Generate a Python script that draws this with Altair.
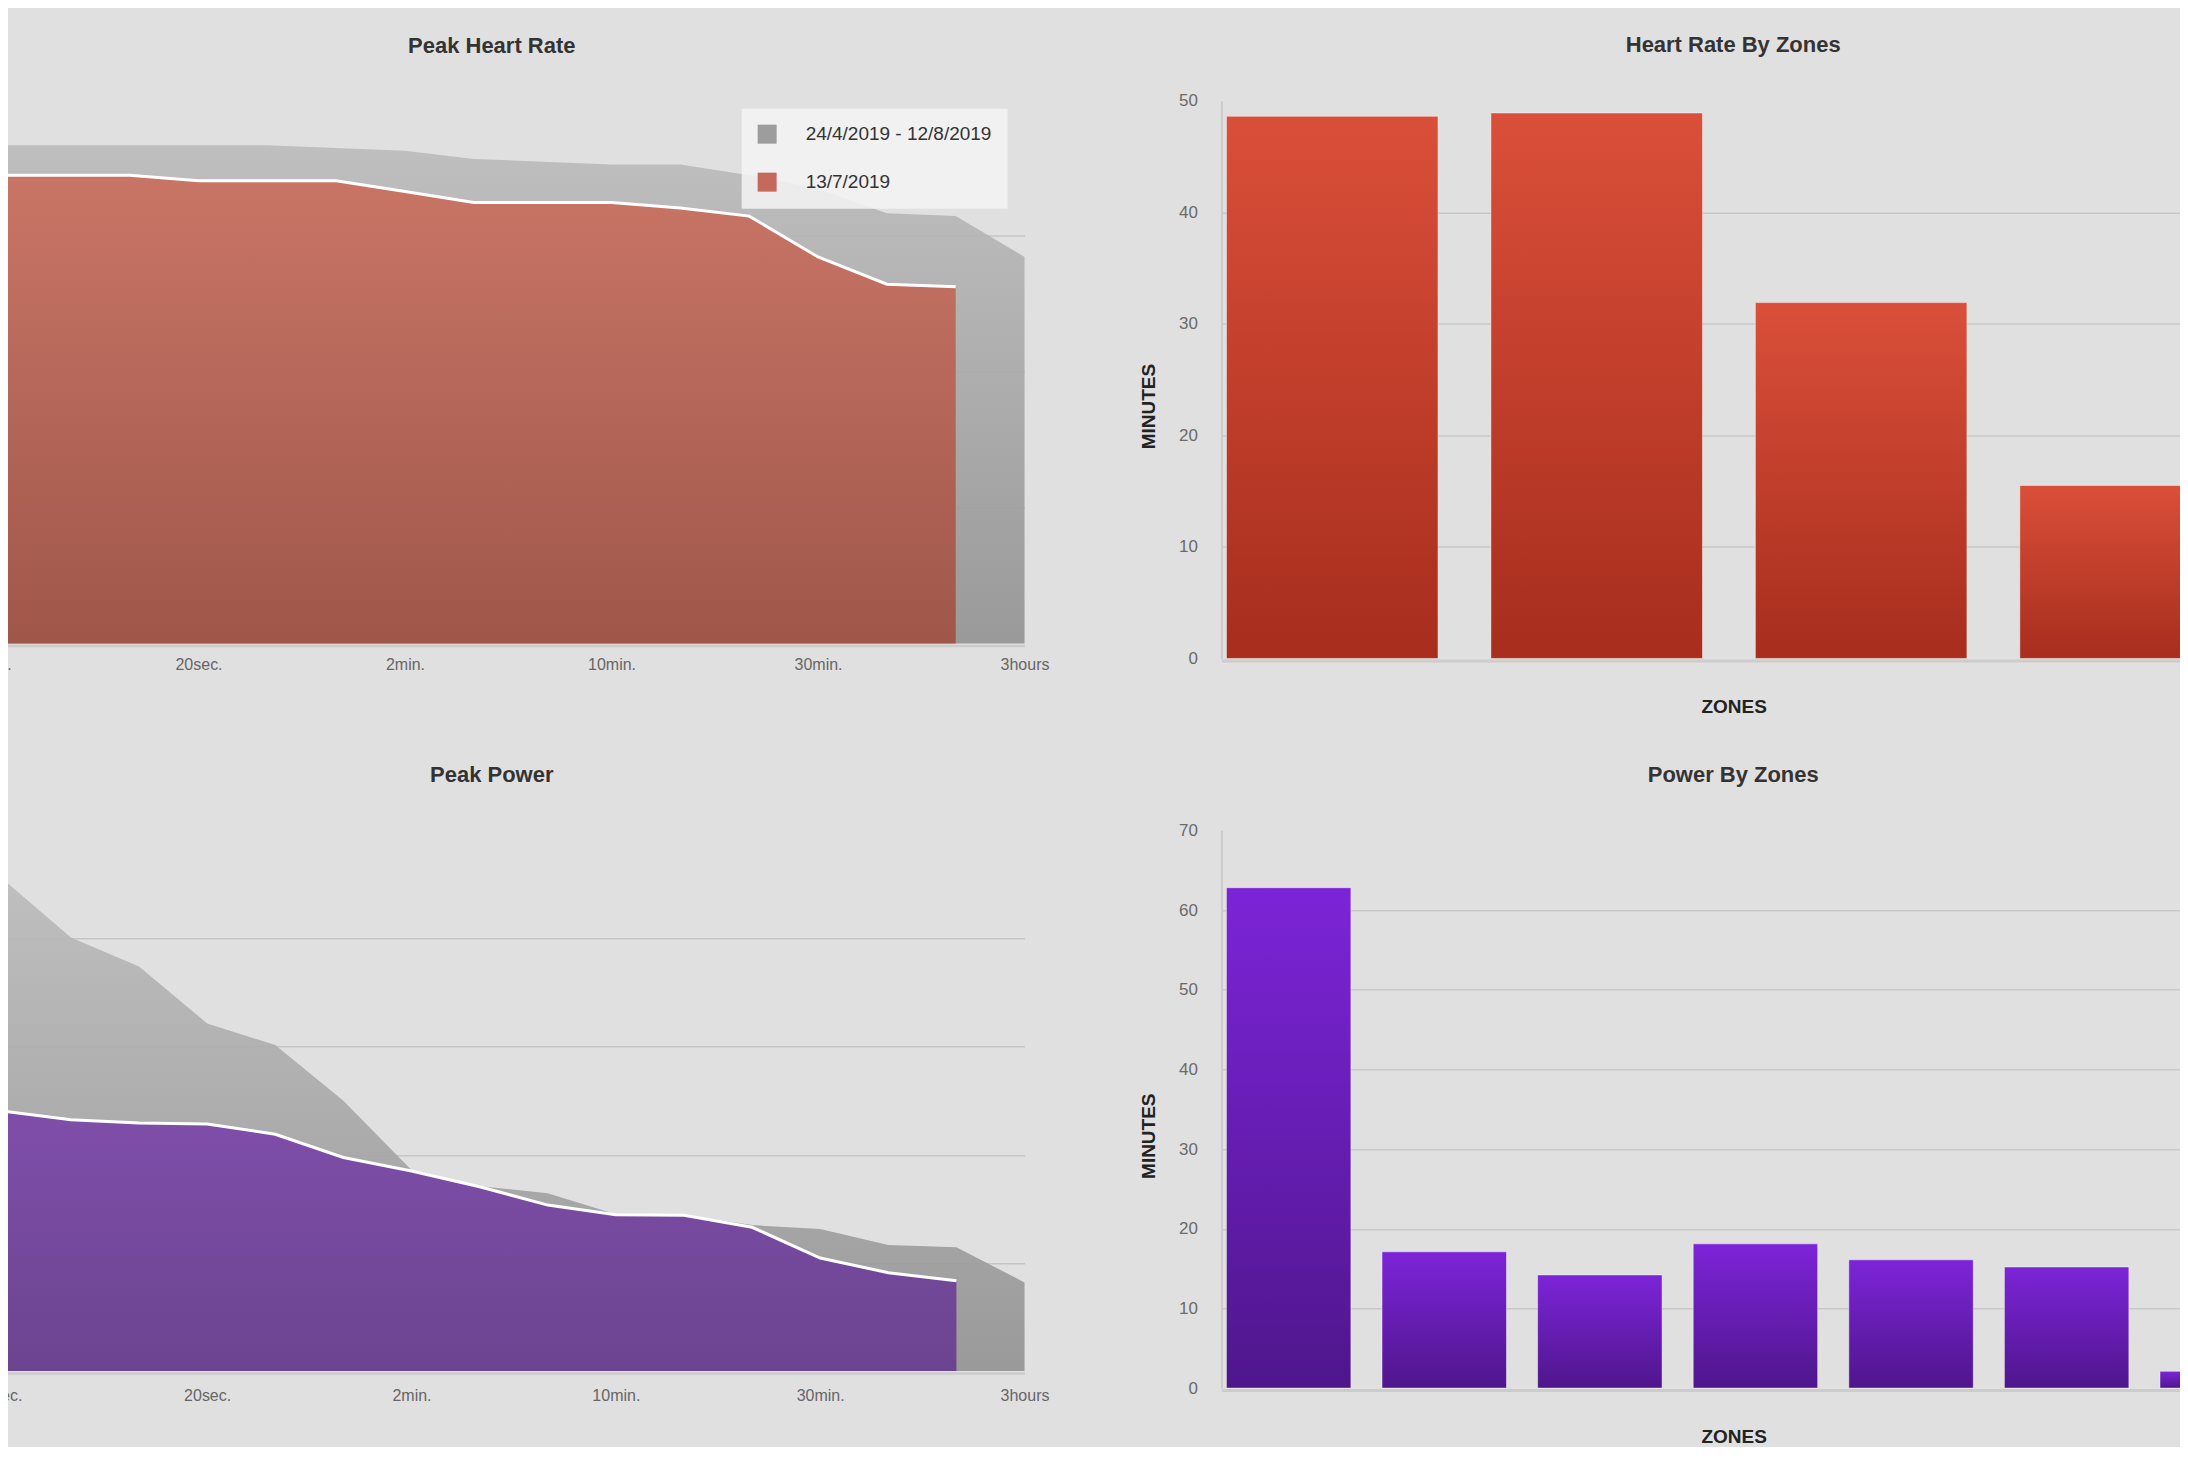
import altair as alt
import pandas as pd

# ---------------- data ----------------
durations = ["5sec.", "10sec.", "15sec.", "20sec.", "30sec.", "1min.", "2min.",
             "5min.", "8min.", "10min.", "15min.", "20min.", "30min.",
             "1hour", "2hours", "3hours"]
tick_labels = ["5sec.", "20sec.", "2min.", "10min.", "30min.", "3hours"]

range_label = "24/4/2019 - 12/8/2019"
ride_label = "13/7/2019"

hr_range_bpm = [183, 183, 183, 183, 183, 182, 181, 178, 177, 176, 176, 172, 167, 158, 157, 142]
hr_ride_bpm = [172, 172, 172, 170, 170, 170, 166, 162, 162, 162, 160, 157, 142, 132, 131]

pw_range_w = [910, 802, 748, 643, 603, 500, 372, 342, 329, 290, 289, 270, 263, 233, 229, 164]
pw_ride_w = [481, 465, 459, 457, 438, 395, 370, 341, 307, 289, 288, 266, 209, 182, 167]

hr_zones = ["Zone 1", "Zone 2", "Zone 3", "Zone 4", "Zone 5"]
hr_zone_minutes = [48.6, 48.9, 31.9, 15.5]          # zone 5 lies outside the frame

pw_zones = ["Zone 1", "Zone 2", "Zone 3", "Zone 4", "Zone 5", "Zone 6", "Zone 7"]
pw_zone_minutes = [62.8, 17.1, 14.2, 18.1, 16.1, 15.2, 2.1]

# ---------------- style ----------------
FONT = "Liberation Sans"
BG = "#e1e0e0"


def vgrad(top, bottom):
    return alt.Gradient(
        gradient="linear",
        stops=[alt.GradientStop(color=top, offset=0), alt.GradientStop(color=bottom, offset=1)],
        x1=1, x2=1, y1=0, y2=1,
    )


def title_params(text, dx, offset):
    return alt.TitleParams(
        text, font=FONT, fontSize=22, fontWeight="bold", color="#333333",
        anchor="middle", frame="group", dx=dx, offset=offset, baseline="alphabetic",
    )


def peak_chart(title, range_vals, ride_vals, ride_top, ride_bottom, ride_legend,
               y_max, height, grid_vals, label_pad, x_range=None):
    range_df = pd.DataFrame({"dur": durations, "value": range_vals})
    ride_df = pd.DataFrame({"dur": durations[:len(ride_vals)], "value": ride_vals})
    legend_df = pd.DataFrame({"series": [range_label, ride_label],
                              "dur": [durations[8], durations[8]],
                              "value": [y_max * 0.2, y_max * 0.2]})
    scale_kw = dict(type="point", domain=durations, padding=0)
    if x_range is not None:
        scale_kw["range"] = x_range
    x = alt.X("dur:O", sort=durations, scale=alt.Scale(**scale_kw),
              axis=alt.Axis(values=tick_labels, labelAngle=0, labelFont=FONT, labelFontSize=16,
                            labelColor="#666666", labelPadding=label_pad, ticks=False, tickSize=0,
                            domain=True, domainColor="#cccccc", domainWidth=2.5, offset=2,
                            grid=False, title=None))
    y = alt.Y("value:Q", scale=alt.Scale(domain=[0, y_max], nice=False, zero=True),
              axis=alt.Axis(values=grid_vals, labels=False, ticks=False, tickSize=0, domain=False,
                            grid=True, gridColor="#c6c6c6", gridWidth=1.5, title=None))
    legend_layer = alt.Chart(legend_df).mark_square(size=16, opacity=1).encode(
        x=x, y=y,
        color=alt.Color("series:N",
                        scale=alt.Scale(domain=[range_label, ride_label], range=["#9d9d9d", ride_legend]),
                        legend=alt.Legend(orient="none", legendX=750, legendY=8, direction="vertical",
                                          title=None, symbolType="square", symbolSize=361,
                                          symbolStrokeWidth=0, symbolOpacity=1, labelLimit=500,
                                          labelFont=FONT, labelFontSize=19, labelColor="#333333",
                                          labelOffset=29, rowPadding=28, padding=16,
                                          fillColor="rgba(243,243,243,0.88)", cornerRadius=0)),
    )
    gray = alt.Chart(range_df).mark_area(color=vgrad("#bbbbbb", "#929292"), opacity=0.9).encode(x=x, y=y)
    ride = alt.Chart(ride_df).mark_area(color=vgrad(ride_top, ride_bottom)).encode(x=x, y=y)
    line = alt.Chart(ride_df).mark_line(color="white", strokeWidth=3).encode(x=x, y=y)
    return alt.layer(legend_layer, gray, ride, line).properties(
        width=1033, height=height, title=title_params(title, -16.5, 26))


def zone_chart(title, zones, minutes, y_max, y_vals, width, pad_outer, top, bottom, title_dx):
    df = pd.DataFrame({"zone": zones[:len(minutes)], "minutes": minutes})
    grid_test = "datum.value === 0 || datum.value === %d" % y_max
    return alt.Chart(df).mark_bar(color=vgrad(top, bottom), stroke="white", strokeWidth=1,
                                  strokeOpacity=0.45).encode(
        x=alt.X("zone:N", sort=zones,
                scale=alt.Scale(domain=zones, paddingInner=0.2, paddingOuter=pad_outer),
                axis=alt.Axis(labels=False, ticks=False, tickSize=0, domain=True, domainColor="#cccccc",
                              domainWidth=3, offset=2, grid=False, title="ZONES", titleFont=FONT,
                              titleFontSize=19, titleFontWeight="bold", titleColor="#222222",
                              titleX=512.5, titleY=46.5, titleAlign="center", titleBaseline="middle")),
        y=alt.Y("minutes:Q", scale=alt.Scale(domain=[0, y_max], nice=False),
                axis=alt.Axis(values=y_vals, labelFont=FONT, labelFontSize=17, labelColor="#6a6a6a",
                              labelPadding=24, ticks=False, tickSize=0, domain=True,
                              domainColor="#cccccc", domainWidth=2, grid=True, gridColor="#c8c8c8",
                              gridWidth=1.5,
                              gridOpacity={"condition": {"test": grid_test, "value": 0}, "value": 1},
                              title="MINUTES", titleFont=FONT, titleFontSize=19, titleFontWeight="bold",
                              titleColor="#222222", titleAngle=270, titleX=-72.5, titleY=305.5,
                              titleAlign="center", titleBaseline="middle")),
    ).properties(width=width, height=558, title=title_params(title, title_dx, 17.5))


tl = peak_chart("Peak Heart Rate", hr_range_bpm, hr_ride_bpm, "#c97566", "#9f574a", "#c4695b",
                199.4, 543, [50, 100, 150], 11.5)
bl = peak_chart("Peak Power", pw_range_w, pw_ride_w, "#7f4eaa", "#6b4490", "#9470bd",
                1000, 541, [200, 400, 600, 800], 14.5, x_range=[10.8, 1033])
tr = zone_chart("Heart Rate By Zones", hr_zones, hr_zone_minutes, 50, [0, 10, 20, 30, 40, 50],
                1280, 0.019, "#da4f39", "#a72d1d", -128)
br = zone_chart("Power By Zones", pw_zones, pw_zone_minutes, 70, [0, 10, 20, 30, 40, 50, 60, 70],
                1068.5, 0.032, "#7c24d8", "#4f168c", -22.25)

base = alt.concat(tl, tr, bl, br, columns=2, bounds="flush",
                  spacing={"row": 172, "column": 197})

try:
    chart = base.properties(padding={"left": -36, "top": 25.4, "right": -321, "bottom": 0}) \
        .configure(background=BG).configure_view(strokeWidth=0)
    chart.to_dict()
except Exception:
    chart = base.properties(padding=0).configure(background=BG).configure_view(strokeWidth=0)

chart.save("out.html", embed_options={"renderer": "svg", "actions": False})
